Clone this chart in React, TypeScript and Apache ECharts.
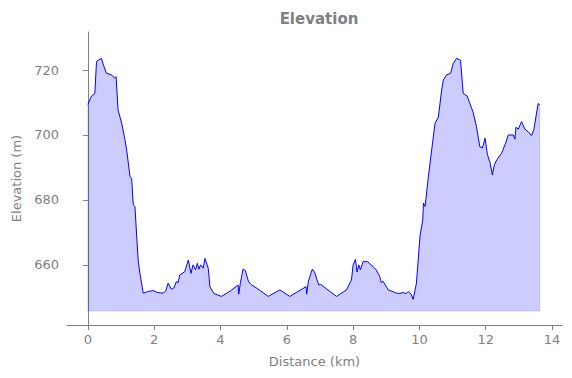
import React, { useEffect, useRef } from "react";
import * as echarts from "echarts";

const distanceKm = [
  0, 0.11, 0.21, 0.26, 0.33, 0.41, 0.47, 0.56, 0.71, 0.81, 0.85, 0.91, 1.02, 1.1, 1.17, 1.27, 1.32, 1.37, 1.42, 1.47, 1.52, 1.57, 1.67,
  1.8, 1.97, 2.1, 2.27, 2.35, 2.42, 2.52, 2.6, 2.67, 2.72, 2.77, 2.92, 3.03, 3.11, 3.17, 3.25, 3.3, 3.35, 3.4, 3.48, 3.53, 3.63, 3.68,
  3.8, 4.03, 4.3, 4.53, 4.55, 4.6, 4.68, 4.75, 4.84, 4.9, 4.94, 5.1, 5.44, 5.79, 6.09, 6.3, 6.58, 6.6, 6.65, 6.77, 6.85, 6.92, 6.97,
  7.02, 7.2, 7.5, 7.8, 7.95, 8.0, 8.07, 8.12, 8.17, 8.22, 8.3, 8.43, 8.5, 8.6, 8.7, 8.8, 8.85, 8.9, 9.06, 9.31, 9.4, 9.51, 9.6, 9.66,
  9.75, 9.81, 9.91, 10.02, 10.1, 10.12, 10.17, 10.27, 10.37, 10.47, 10.57, 10.67, 10.72, 10.82, 10.94, 11.02, 11.12, 11.24, 11.32,
  11.44, 11.52, 11.62, 11.72, 11.82, 11.9, 11.98, 12.05, 12.13, 12.2, 12.26, 12.33, 12.48, 12.6, 12.68, 12.83, 12.88, 12.91, 12.98,
  13.08, 13.18, 13.28, 13.38, 13.45, 13.58, 13.63,
];

const elevationM = [
  709.4, 712, 712.8, 722.6, 723.1, 723.6, 721.5, 719, 718.5, 717.5, 718, 707.7, 703.6, 699.5, 695.4, 687.2, 686.5, 678.5, 678, 669.2,
  661, 657.4, 651.3, 651.8, 652.1, 651.5, 651.3, 652, 654.4, 652.5, 653, 654.9, 654.5, 656.9, 657.9, 661.5, 657.4, 660, 658.5, 660.5,
  658.7, 660, 659, 662, 659, 653.3, 651.2, 650.3, 652, 653.8, 651, 654.5, 658.7, 658.2, 655, 654.2, 653.8, 652.8, 650.3, 652.3, 650.3,
  651.6, 653.3, 651, 655, 658.7, 657.5, 655, 653.8, 654, 652.6, 650.3, 652.3, 655.4, 660, 661.7, 657.8, 660, 658.5, 661, 661, 660.4,
  659.5, 658.4, 656.5, 654.5, 655, 652.3, 651.3, 651.2, 651.5, 651.2, 651.8, 651, 649.4, 654.4, 669.2, 673.8, 679, 678, 687.2, 695.4,
  703.6, 705.5, 713.8, 716.9, 718.5, 719, 722, 723.6, 723, 712.8, 712, 709.7, 707, 702.6, 696.4, 696, 699, 694, 691.5, 687.7, 690.8,
  692.3, 694.4, 697.5, 700, 700, 698.7, 702.4, 701.8, 704.1, 701.8, 701, 699.8, 701.6, 709.7, 709.3,
];

const fillBase = 645.8;
const xTicks = [0, 2, 4, 6, 8, 10, 12, 14];
const yTicks = [660, 680, 700, 720];

export default function App() {
  const ref = useRef<HTMLDivElement>(null);
  useEffect(() => {
    if (!ref.current) return;
    const chart = echarts.init(ref.current, null, { renderer: "svg" });
    const profile = distanceKm.map((d, i) => [d, elevationM[i]]);
    const last = distanceKm.length - 1;
    const outline = [
      [distanceKm[0], elevationM[0]],
      [distanceKm[0], fillBase],
      [distanceKm[last], fillBase],
      [distanceKm[last], elevationM[last]],
    ];
    const grey = "#808080";
    const font = "DejaVu Sans";
    chart.setOption({
      animation: false,
      title: {
        text: "Elevation",
        left: 314,
        textAlign: "center",
        top: 6,
        textStyle: { color: grey, fontFamily: font, fontWeight: "bold", fontSize: 15 },
      },
      grid: { left: 67, right: 10, top: 32, bottom: 53 },
      xAxis: {
        type: "value",
        min: -0.63,
        max: 14.3,
        name: "Distance (km)",
        nameLocation: "middle",
        nameGap: 30,
        nameTextStyle: { color: grey, fontFamily: font, fontSize: 13 },
        axisLine: { lineStyle: { color: grey, width: 1 } },
        axisTick: { show: true, length: 5, customValues: xTicks, lineStyle: { color: grey } },
        axisLabel: { customValues: xTicks, color: grey, fontFamily: font, fontSize: 13, margin: 8 },
        splitLine: { show: false },
      },
      yAxis: {
        type: "value",
        min: 641.5,
        max: 731.7,
        name: "Elevation (m)",
        nameLocation: "middle",
        nameGap: 44,
        nameTextStyle: { color: grey, fontFamily: font, fontSize: 13 },
        axisLine: { show: true, lineStyle: { color: grey, width: 1 } },
        axisTick: { show: true, length: 5, customValues: yTicks, lineStyle: { color: grey } },
        axisLabel: { customValues: yTicks, color: grey, fontFamily: font, fontSize: 13, margin: 8 },
        splitLine: { show: false },
      },
      series: [
        {
          type: "line",
          data: profile,
          showSymbol: false,
          lineStyle: { color: "#0000ff", width: 1 },
          areaStyle: { color: "rgba(0,0,255,0.2)", origin: fillBase, opacity: 1 },
          z: 3,
        },
        {
          type: "line",
          data: outline,
          showSymbol: false,
          lineStyle: { color: "rgba(0,0,255,0.15)", width: 1 },
          z: 2,
          silent: true,
        },
      ],
    });
    return () => chart.dispose();
  }, []);
  return <div ref={ref} style={{ width: 572, height: 378, position: "absolute", left: 0, top: 0 }} />;
}
